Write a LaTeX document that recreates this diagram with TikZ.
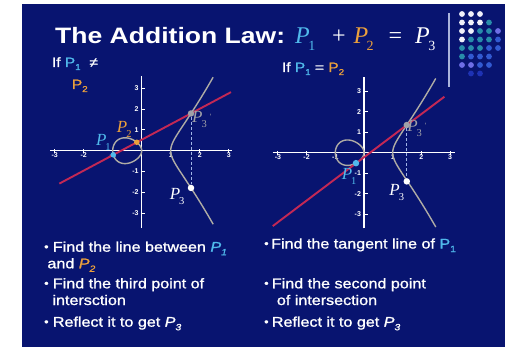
\documentclass[tikz,border=0pt]{standalone}
\usepackage{fontspec}
\setmainfont{Liberation Sans}
\newfontfamily\sansS[FakeStretch=1.19]{Liberation Sans}
\newfontfamily\sansB[FakeStretch=1.15,FakeBold=1.2]{Liberation Sans}
\newfontfamily\serifP{Liberation Serif}
\definecolor{bg}{RGB}{8,20,112}
\definecolor{pone}{RGB}{80,185,235}
\definecolor{ptwo}{RGB}{235,160,60}
\definecolor{curvec}{RGB}{175,172,165}
\definecolor{linec}{RGB}{195,40,85}
\definecolor{dotgray}{RGB}{160,160,168}
\definecolor{dashc}{RGB}{160,180,230}
\definecolor{dw}{RGB}{240,240,250}
\definecolor{dt}{RGB}{40,140,170}
\definecolor{db}{RGB}{50,90,210}
\definecolor{dp}{RGB}{110,110,230}
\definecolor{df}{RGB}{30,50,180}
\definecolor{vline}{RGB}{170,180,220}
\newcommand\msub[1]{\kern-1.5pt\raisebox{-7.5pt}{\fontsize{14}{14}\selectfont\upshape #1}}
\newcommand\lsub[1]{\raisebox{-3pt}{\fontsize{8.5}{8.5}\selectfont #1}}
\newcommand\bsub[1]{\raisebox{-3.5pt}{\fontsize{9}{9}\selectfont #1}}
\newcommand\psub[1]{\kern-1pt\raisebox{-5pt}{\fontsize{10.5}{10.5}\selectfont\upshape #1}}
\tikzset{
  axisline/.style={white, line width=1.3pt},
  tickline/.style={white, line width=0.9pt},
  ticklbl/.style={text=white, inner sep=0pt, font=\bfseries\fontsize{7}{7}\selectfont},
  curve/.style={curvec, line width=1.4pt},
  redline/.style={linec, line width=1.9pt},
  dashl/.style={dashc, line width=0.9pt, dash pattern=on 3pt off 2pt},
  dot/.style={circle, inner sep=0pt, minimum size=6.5pt},
  plbl/.style={inner sep=0pt, font=\serifP\itshape\fontsize{17}{17}\selectfont},
  mathP/.style={anchor=base west, inner sep=0pt, font=\serifP\itshape\fontsize{24}{24}\selectfont},
  mathO/.style={anchor=base, inner sep=0pt, text=white, font=\serifP\fontsize{24}{24}\selectfont},
  txt/.style={anchor=base west, inner sep=0pt, text=white, font=\sansB\fontsize{14}{16}\selectfont},
  bul/.style={anchor=base west, inner sep=0pt, text=white, font=\sansB\fontsize{11}{12}\selectfont},
  lbl/.style={anchor=base west, inner sep=0pt, text=white, font=\sansB\fontsize{13.5}{15}\selectfont},
  gdot/.style={circle, inner sep=0pt, minimum size=5.8pt},
}
\begin{document}
\begin{tikzpicture}[x=1pt,y=-1pt]
\useasboundingbox (0,0) rectangle (505,347);
\fill[white] (0,0) rectangle (505,347);
\fill[bg] (22,4) rectangle (505,347);
% title
\node[anchor=base west, inner sep=0pt, text=white, font=\sansS\bfseries\fontsize{22.3}{24}\selectfont] (title) at (55,43.3) {The Addition Law:};
\node[mathP, text=pone] (m1) at (295,43.3) {P\msub{1}};
\node[mathO] (mplus) at (339,43.3) {+};
\node[mathP, text=ptwo] (m2) at (353.3,43.3) {P\msub{2}};
\node[mathO] (meq) at (395.5,43.3) {=};
\node[mathP, text=white] (m3) at (415,43.3) {P\msub{3}};
% vertical rule
\coordinate (vt) at (449,13);
\coordinate (vb) at (449,87);
\draw[vline, line width=1.2pt] (vt) -- (vb);
% dot grid
\foreach \c/\r/\col in {1/1/dw,2/1/dw,3/1/dw,
  1/2/dw,2/2/dw,3/2/dw,4/2/dt,
  1/3/dw,2/3/dw,3/3/dt,4/3/dt,5/3/dp,
  1/4/dw,2/4/dt,3/4/dt,4/4/dt,5/4/db,
  1/5/dt,2/5/dt,3/5/dt,4/5/db,5/5/db,
  1/6/dt,2/6/db,3/6/db,4/6/db,
  1/7/dp,2/7/dp,3/7/db,4/7/db,
  2/8/df,3/8/df}
  \node[gdot, fill=\col] (g\c\r) at ({453+9*\c},{5.5+8.5*\r}) {};
% condition labels
\node[lbl] (if1) at (51.7,67) {If \textcolor{pone}{P\lsub{1}}\,\, ≠};
\node[lbl] (if1b) at (71.7,89) {\textcolor{ptwo}{P\lsub{2}}};
\node[lbl] (if2) at (281.7,72) {If \textcolor{pone}{P\lsub{1}} = \textcolor{ptwo}{P\lsub{2}}};
% ---------- left graph
\begin{scope}[shift={(141.7pt,-150.7pt)},x=29pt,y=20.8pt]
  \draw[axisline] (-3.16,0) -- (3.11,0);
  \draw[axisline] (0,-3.72) -- (0,3.59);
  \foreach \i in {-3,-2,-1,1,2,3} {
    \draw[tickline] (\i,-0.1) -- (\i,0.1);
    \node[ticklbl] (lx\i) at (\i,-0.2) {\i};
    \draw[tickline] (0,\i) -- (0.13,\i);
    \node[ticklbl, anchor=east] (ly\i) at (-0.1,\i) {\i};
  }
  \draw[curve] plot[domain=0:180, samples=90, variable=\t] ({-sin(\t)*sin(\t)},{sin(\t)*cos(\t)*sqrt(1+sin(\t)*sin(\t))}) -- cycle;
  \draw[curve] plot[domain=-1.21:1.21, samples=80, variable=\s] ({1+(\s)*(\s)},{(\s)*sqrt((1+(\s)*(\s))*(2+(\s)*(\s)))});
  \coordinate (lA) at (-2.84,-1.582);
  \coordinate (lB) at (3.08,2.816);
  \draw[redline] (lA) -- (lB);
  \node[dot, fill=dotgray] (lP3p) at (1.70,1.79) {};
  \node[dot, fill=white] (lP3) at (1.70,-1.79) {};
  \draw[dashl] (lP3p) -- (lP3);
  \node[dot, fill=pone, minimum size=5.5pt] (lP1) at (-0.98,-0.2) {};
  \node[dot, fill=ptwo, minimum size=5.5pt] (lP2) at (-0.17,0.405) {};
  \node[plbl, text=pone] (lP1l) at (-1.32,0.39) {P\psub{1}};
  \node[plbl, text=ptwo] (lP2l) at (-0.60,1.02) {P\psub{2}};
  \node[plbl, text=dotgray] (lP3pl) at (2.07,1.48) {P\psub{3}\kern3pt\raisebox{3pt}{\fontsize{8}{8}\selectfont\upshape '}};
  \node[plbl, text=white] (lP3l) at (1.22,-2.18) {P\psub{3}};
\end{scope}
% ---------- right graph
\begin{scope}[shift={(364pt,-152.7pt)},x=28.7pt,y=20.5pt]
  \draw[axisline] (-3.18,0) -- (3.17,0);
  \draw[axisline] (0,-3.69) -- (0,3.7);
  \foreach \i in {-3,-2,-1,1,2,3} {
    \draw[tickline] (\i,-0.1) -- (\i,0.1);
    \node[ticklbl] (rx\i) at (\i,-0.2) {\i};
    \draw[tickline] (0,\i) -- (0.13,\i);
    \node[ticklbl, anchor=east] (ry\i) at (-0.1,\i) {\i};
  }
  \draw[curve] plot[domain=0:180, samples=90, variable=\t] ({-sin(\t)*sin(\t)},{sin(\t)*cos(\t)*sqrt(1+sin(\t)*sin(\t))}) -- cycle;
  \draw[curve] plot[domain=-1.225:1.225, samples=80, variable=\s] ({1+(\s)*(\s)},{(\s)*sqrt((1+(\s)*(\s))*(2+(\s)*(\s)))});
  \coordinate (rA) at (-3.18,-3.58);
  \coordinate (rB) at (2.80,2.73);
  \draw[redline] (rA) -- (rB);
  \node[dot, fill=dotgray] (rP3p) at (1.49,1.35) {};
  \node[dot, fill=white] (rP3) at (1.49,-1.40) {};
  \draw[dashl] (rP3p) -- (rP3);
  \node[dot, fill=pone] (rP1) at (-0.28,-0.51) {};
  \node[plbl, text=pone] (rP1l) at (-0.52,-1.14) {P\psub{1}};
  \node[plbl, text=dotgray] (rP3pl) at (1.84,1.20) {P\psub{3}\kern3pt\raisebox{3pt}{\fontsize{8}{8}\selectfont\upshape '}};
  \node[plbl, text=white] (rP3l) at (1.14,-1.94) {P\psub{3}};
\end{scope}
% ---------- bullets left
\node[bul] (b1) at (44,250.5) {•};
\node[txt] (t1) at (52.7,251.7) {Find the line between \textcolor{pone}{\itshape P\bsub{1}}};
\node[txt] (t1b) at (47.3,268.3) {and \textcolor{ptwo}{\itshape P\bsub{2}}};
\node[bul] (b2) at (44,287) {•};
\node[txt] (t2) at (52.7,288.3) {Find the third point of};
\node[txt] (t2b) at (52.3,305) {intersction};
\node[bul] (b3) at (44,325.5) {•};
\node[txt] (t3) at (52.7,326.7) {Reflect it to get \textit{P\bsub{3}}};
% ---------- bullets right
\node[bul] (c1) at (264,247.3) {•};
\node[txt] (u1) at (271,248.5) {Find the tangent line of \textcolor{pone}{P\bsub{1}}};
\node[bul] (c2) at (264,287) {•};
\node[txt] (u2) at (271.7,288.3) {Find the second point};
\node[txt] (u2b) at (276.7,305) {of intersection};
\node[bul] (c3) at (264,325.5) {•};
\node[txt] (u3) at (271.7,326.7) {Reflect it to get \textit{P\bsub{3}}};
\end{tikzpicture}
\end{document}
